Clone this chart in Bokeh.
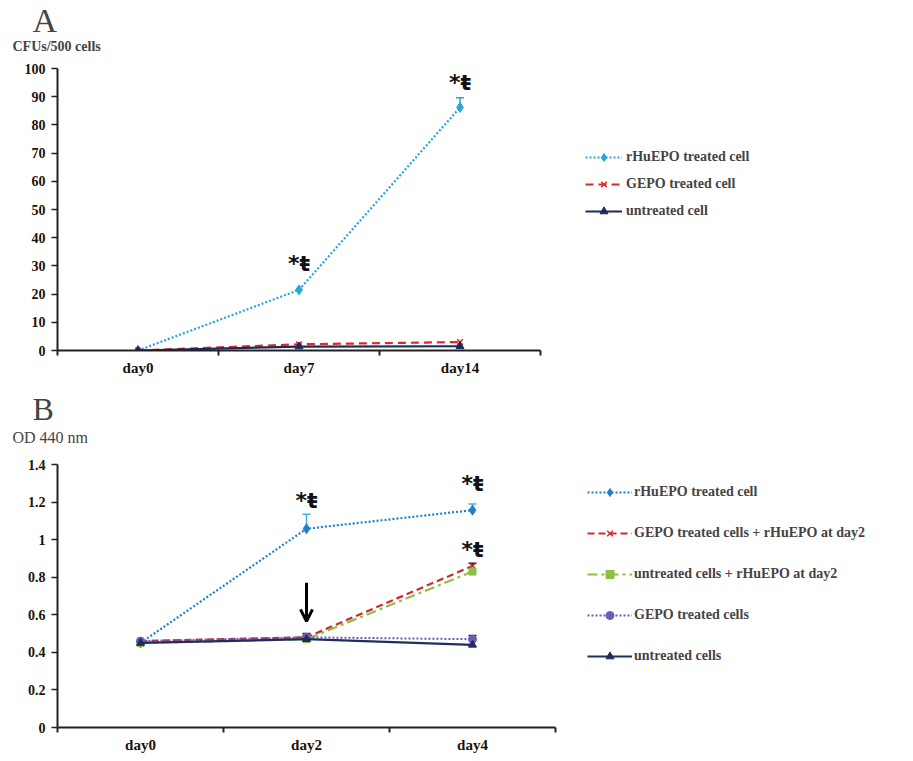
from bokeh.plotting import figure
from bokeh.models import (Range1d, FixedTicker, Legend, LegendItem, Title, Whisker,
                          ColumnDataSource, Arrow, OpenHead, TeeHead)
from bokeh.layouts import column
from bokeh.embed import file_html
from bokeh.resources import INLINE
from bokeh.core.properties import value

# ---------------- data: panel A ----------------
days_A = ["day0", "day7", "day14"]
rhuepo_A = [0, 21.5, 86.2]
rhuepo_A_err_up = [0, 0, 89.6]
gepo_A = [0, 2.2, 3.0]
untreated_A = [0, 1.4, 1.5]
yticks_A = [0, 10, 20, 30, 40, 50, 60, 70, 80, 90, 100]
ann_A_idx = [1, 2]
ann_A_y = [30.9, 95.0]

# ---------------- data: panel B ----------------
days_B = ["day0", "day2", "day4"]
rhuepo_B = [0.45, 1.058, 1.157]
rhuepo_B_err_up = [0, 1.135, 1.19]
gepo_rh_B = [0.46, 0.48, 0.86]
gepo_rh_B_err_up = [0, 0.50, 0.875]
untr_rh_B = [0.45, 0.47, 0.83]
gepo_B = [0.46, 0.48, 0.47]
gepo_B_err_up = [0, 0.49, 0.49]
untreated_B = [0.45, 0.47, 0.44]
yticks_B = [0, 0.2, 0.4, 0.6, 0.8, 1, 1.2, 1.4]
ytick_labels_B = ["0", "0.2", "0.4", "0.6", "0.8", "1", "1.2", "1.4"]
ann_B_idx = [1, 2, 2]
ann_B_y = [1.21, 1.30, 0.95]
arrow_B_idx = 1
arrow_B_from = 0.77
arrow_B_to = 0.565

SERIF = "Liberation Serif"
ANN = "*ŧ"


def style_axes(p, ncat, labels, yticks, yoverrides=None):
    p.xaxis.ticker = FixedTicker(ticks=[i + 0.5 for i in range(ncat)],
                                 minor_ticks=list(range(ncat + 1)))
    p.xaxis.major_label_overrides = {i + 0.5: labels[i] for i in range(ncat)}
    p.xaxis.major_tick_out = 0
    p.xaxis.major_tick_in = 0
    p.xaxis.minor_tick_out = 5
    p.xaxis.minor_tick_in = 0
    p.xaxis.minor_tick_line_width = 2
    p.yaxis.ticker = FixedTicker(ticks=yticks)
    if yoverrides:
        p.yaxis.major_label_overrides = yoverrides
    p.yaxis.major_tick_out = 6
    p.yaxis.major_tick_in = 0
    p.yaxis.minor_tick_out = 0
    p.yaxis.major_tick_line_width = 1.5
    for ax in (p.xaxis, p.yaxis):
        ax.axis_line_color = "#222222"
        ax.axis_line_width = 2
        ax.major_tick_line_color = "#222222"
        ax.minor_tick_line_color = "#222222"
        ax.major_label_text_font = SERIF
        ax.major_label_text_font_style = "bold"
        ax.major_label_text_color = "#1a1208"
    p.xaxis.major_label_text_font_size = "15px"
    p.yaxis.major_label_text_font_size = "14px"
    p.xaxis.major_label_standoff = 4
    p.yaxis.major_label_standoff = 6
    p.xgrid.visible = False
    p.ygrid.visible = False
    p.outline_line_color = None


def make_fig(left, fw, fh, top, bottom, total_w):
    p = figure(output_backend="svg", toolbar_location=None,
               frame_width=fw, frame_height=fh,
               min_border_left=left, min_border_right=total_w - left - fw,
               min_border_top=top, min_border_bottom=bottom,
               background_fill_color="white", border_fill_color="white")
    return p


def add_errors(p, xs, lo, hi, col):
    keep = [i for i in range(len(xs)) if hi[i] > lo[i]]
    s = ColumnDataSource(dict(x=[xs[i] for i in keep], lo=[lo[i] for i in keep],
                              hi=[hi[i] for i in keep]))
    p.add_layout(Whisker(source=s, base="x", lower="lo", upper="hi",
                         line_color=col, line_width=1.5, lower_head=None,
                         upper_head=TeeHead(size=8, line_color=col, line_width=1.5)))


def make_legend(items, loc, spacing, gw, standoff):
    return Legend(items=items, location=loc, padding=0, margin=0, spacing=spacing,
                  glyph_height=20, glyph_width=gw, label_height=20,
                  label_standoff=standoff, border_line_color=None,
                  background_fill_alpha=0, label_text_font=SERIF,
                  label_text_font_style="bold", label_text_font_size="14px")


W = 897

# ================= Panel A =================
pA = make_fig(57, 483, 282, 68, 38, W)
pA.x_range = Range1d(0, 3)
pA.y_range = Range1d(0, 100)
pA.add_layout(Title(text="CFUs/500 cells", text_font=SERIF, text_font_style="bold",
                    text_font_size="14px", offset=-45, standoff=29), "above")
pA.add_layout(Title(text="A", text_font=SERIF, text_font_style="normal",
                    text_font_size="34px", offset=-25, standoff=-33), "above")
style_axes(pA, 3, days_A, yticks_A)

xA = [i + 0.5 for i in range(len(days_A))]
c1, c2, c3 = "#27a6dc", "#e0262b", "#1c2a5a"
l1 = pA.line(xA, rhuepo_A, line_color=c1, line_width=2.2, line_dash="2 2")
m1 = pA.scatter(xA, rhuepo_A, marker="diamond", size=10, color=c1)
l2 = pA.line(xA, gepo_A, line_color=c2, line_width=2.2, line_dash="8 5")
m2 = pA.scatter(xA, gepo_A, marker="x", size=8, line_color=c2, line_width=1.5)
l3 = pA.line(xA, untreated_A, line_color=c3, line_width=2.2)
m3 = pA.scatter(xA, untreated_A, marker="triangle", size=8, color=c3)
add_errors(pA, xA, rhuepo_A, rhuepo_A_err_up, c1)
pA.text([i + 0.5 for i in ann_A_idx], ann_A_y, text=[ANN] * len(ann_A_idx),
        text_align="center", text_baseline="middle", text_font=value("DejaVu Sans"),
        text_font_style="bold", text_font_size="22px", text_color="#111111")

legA = make_legend([LegendItem(label="rHuEPO treated cell", renderers=[l1, m1]),
                    LegendItem(label="GEPO treated cell", renderers=[l2, m2]),
                    LegendItem(label="untreated cell", renderers=[l3, m3])],
                   (45, 129), 7, 37, 4)
pA.add_layout(legA, "right")

# ================= Panel B =================
pB = make_fig(55, 498, 263, 76, 26, W)
pB.x_range = Range1d(0, 3)
pB.y_range = Range1d(0, 1.4)
pB.add_layout(Title(text="OD 440 nm", text_font=SERIF, text_font_style="normal",
                    text_font_size="16px", offset=-45, standoff=37), "above")
pB.add_layout(Title(text="B", text_font=SERIF, text_font_style="normal",
                    text_font_size="32px", offset=-25, standoff=-37), "above")
style_axes(pB, 3, days_B, yticks_B,
           {yticks_B[i]: ytick_labels_B[i] for i in range(len(yticks_B))})

xB = [i + 0.5 for i in range(len(days_B))]
b1, b2, b3, b4, b5 = "#2180cc", "#cc2a30", "#8cbf44", "#6e5bb8", "#1f2d5e"
errc = "#45b2e4"
k1 = pB.line(xB, rhuepo_B, line_color=b1, line_width=2.2, line_dash="2 2")
n1 = pB.scatter(xB, rhuepo_B, marker="diamond", size=10, color=b1)
k2 = pB.line(xB, gepo_rh_B, line_color=b2, line_width=2.2, line_dash="7 4")
n2 = pB.scatter(xB, gepo_rh_B, marker="x", size=8, line_color=b2, line_width=1.5)
k3 = pB.line(xB, untr_rh_B, line_color=b3, line_width=2.2, line_dash="10 4 3 4")
n3 = pB.scatter(xB, untr_rh_B, marker="square", size=7, color=b3)
k4 = pB.line(xB, gepo_B, line_color=b4, line_width=2, line_dash="2 2")
n4 = pB.scatter(xB, gepo_B, marker="circle", size=8, color=b4)
k5 = pB.line(xB, untreated_B, line_color=b5, line_width=2.2)
n5 = pB.scatter(xB, untreated_B, marker="triangle", size=8, color=b5)

add_errors(pB, xB, rhuepo_B, rhuepo_B_err_up, errc)
add_errors(pB, xB, gepo_rh_B, gepo_rh_B_err_up, "#222222")
add_errors(pB, xB, gepo_B, gepo_B_err_up, "#222222")

pB.text([i + 0.5 for i in ann_B_idx], ann_B_y, text=[ANN] * len(ann_B_idx),
        text_align="center", text_baseline="middle", text_font=value("DejaVu Sans"),
        text_font_style="bold", text_font_size="22px", text_color="#111111")
pB.add_layout(Arrow(x_start=arrow_B_idx + 0.5, y_start=arrow_B_from,
                    x_end=arrow_B_idx + 0.5, y_end=arrow_B_to,
                    line_color="black", line_width=3,
                    end=OpenHead(size=12, line_color="black", line_width=3)))

legB = make_legend([LegendItem(label="rHuEPO treated cell", renderers=[k1, n1]),
                    LegendItem(label="GEPO treated cells + rHuEPO at day2", renderers=[k2, n2]),
                    LegendItem(label="untreated cells + rHuEPO at day2", renderers=[k3, n3]),
                    LegendItem(label="GEPO treated cells", renderers=[k4, n4]),
                    LegendItem(label="untreated cells", renderers=[k5, n5])],
                   (32, 61), 21, 45, 2)
pB.add_layout(legB, "right")

layout = column(pA, pB, spacing=0)
open("out.html", "w").write(file_html(layout, INLINE))
